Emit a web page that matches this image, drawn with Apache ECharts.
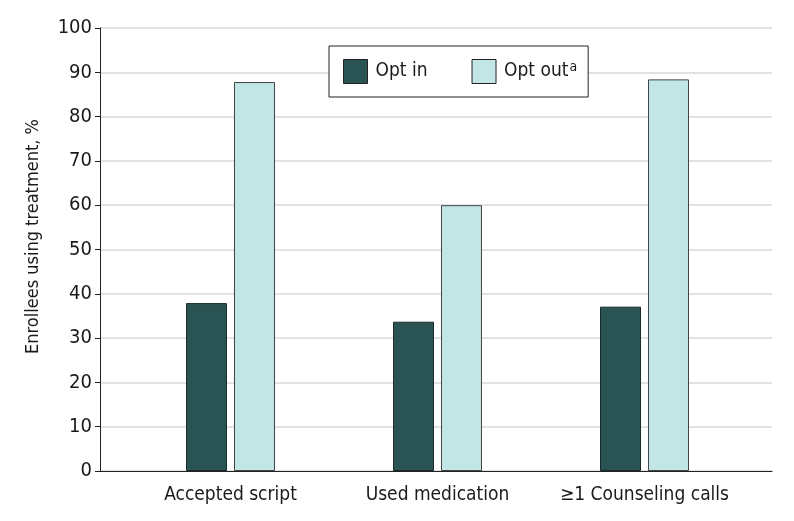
<!DOCTYPE html>
<html>
<head>
<meta charset="utf-8">
<script src="https://cdn.jsdelivr.net/npm/echarts@6/dist/echarts.min.js"></script>
<style>
html,body{margin:0;padding:0;background:#fff;}
#c{width:794px;height:521px;}
</style>
</head>
<body>
<div id="c"></div>
<script>
const categories = ['Accepted script', 'Used medication', '\u22651 Counseling calls'];
const optIn = [37.9, 33.7, 37.1];
const optOut = [87.8, 60.0, 88.4];
const yTicks = [0, 10, 20, 30, 40, 50, 60, 70, 80, 90, 100];
const seriesNames = ['Opt in', 'Opt out'];

const FONT = '"DejaVu Sans Condensed", "DejaVu Sans", sans-serif';
const chart = echarts.init(document.getElementById('c'));
chart.setOption({
  backgroundColor: '#fff',
  animation: false,
  textStyle: { fontFamily: FONT },
  legend: {
    data: seriesNames,
    left: 329, top: 46,
    orient: 'horizontal',
    icon: 'rect',
    itemWidth: 24, itemHeight: 24, itemGap: 44,
    padding: [13, 11, 13, 14],
    backgroundColor: '#fff',
    borderColor: '#222',
    borderWidth: 1,
    borderRadius: 0,
    z: 10,
    itemStyle: { borderColor: '#222', borderWidth: 1 },
    formatter: function (n) { return n === 'Opt out' ? '{t|Opt out}{s|a}' : '{t|' + n + '}'; },
    textStyle: {
      fontFamily: FONT, color: '#1a1a1a', fontSize: 19,
      rich: {
        t: { fontFamily: FONT, fontSize: 19, color: '#1a1a1a', padding: [0, 0, 0, 3] },
        s: { fontFamily: FONT, fontSize: 14, color: '#1a1a1a', verticalAlign: 'top', padding: [0, 0, 9, 1] }
      }
    }
  },
  grid: [
    { left: 100, right: 22, top: 28, bottom: 50, containLabel: false, outerBoundsMode: 'none' },
    { left: 127, right: 46, top: 28, bottom: 50, containLabel: false, outerBoundsMode: 'none' }
  ],
  xAxis: [
    { type: 'value', gridIndex: 0, min: 0, max: 1,
      axisLine: { show: true, lineStyle: { color: '#222', width: 1 } },
      axisTick: { show: false }, axisLabel: { show: false }, splitLine: { show: false } },
    { type: 'category', gridIndex: 1, data: categories,
      axisLine: { show: false }, axisTick: { show: false },
      axisLabel: { color: '#1a1a1a', fontSize: 19, fontFamily: FONT, margin: 15, interval: 0 } }
  ],
  yAxis: [
    { type: 'value', gridIndex: 0, min: yTicks[0], max: yTicks[yTicks.length - 1], interval: 10,
      name: 'Enrollees using treatment, %', nameLocation: 'middle', nameGap: 58, nameRotate: 90,
      nameTextStyle: { color: '#1a1a1a', fontSize: 18, fontFamily: FONT, padding: [0, 0, 0, 26] },
      axisLine: { show: true, lineStyle: { color: '#222', width: 1 } },
      axisTick: { show: true, length: 5, lineStyle: { color: '#222' } },
      axisLabel: { color: '#1a1a1a', fontSize: 20, fontFamily: FONT, margin: 8 },
      splitLine: { show: true, lineStyle: { color: '#d8d8d8', width: 1.5 } } },
    { type: 'value', gridIndex: 1, min: 0, max: 100, interval: 10, show: false, splitLine: { show: false } }
  ],
  series: [
    { name: seriesNames[0], type: 'bar', xAxisIndex: 1, yAxisIndex: 1, data: optIn,
      barWidth: 41, barGap: '17%',
      itemStyle: { color: '#2a5453', borderColor: '#1a2a2a', borderWidth: 1 } },
    { name: seriesNames[1], type: 'bar', xAxisIndex: 1, yAxisIndex: 1, data: optOut,
      barWidth: 41, barGap: '17%',
      itemStyle: { color: '#c1e6e5', borderColor: '#444', borderWidth: 1 } }
  ]
});
</script>
</body>
</html>
